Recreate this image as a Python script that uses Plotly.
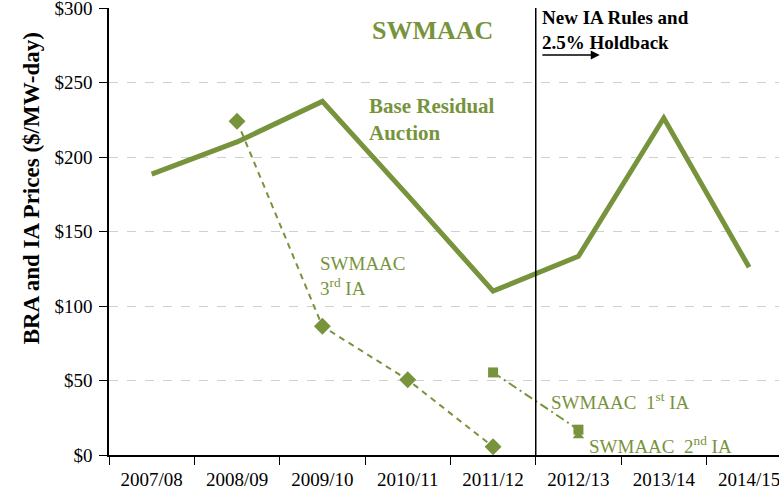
import plotly.graph_objects as go

categories = ["2007/08", "2008/09", "2009/10", "2010/11", "2011/12", "2012/13", "2013/14", "2014/15"]
bra_prices = [188.54, 210.11, 237.33, 174.29, 110.00, 133.37, 226.15, 125.99]
ia3_cats = ["2008/09", "2009/10", "2010/11", "2011/12"]
ia3_prices = [224.0, 86.4, 50.5, 5.5]
ia1_cats = ["2011/12", "2012/13"]
ia1_prices = [55.4, 17.0]
ia2_cats = ["2012/13"]
ia2_prices = [13.0]
y_ticks = [0, 50, 100, 150, 200, 250, 300]
y_labels = ["$0", "$50", "$100", "$150", "$200", "$250", "$300"]

GREEN = "#77933C"
SERIF = "Liberation Serif, Times New Roman, serif"

fig = go.Figure()
fig.add_trace(go.Scatter(x=categories, y=bra_prices, mode="lines",
                         line=dict(color=GREEN, width=5), name="BRA"))
fig.add_trace(go.Scatter(x=ia3_cats, y=ia3_prices, mode="lines+markers",
                         line=dict(color=GREEN, width=2, dash="6px,5px"),
                         marker=dict(symbol="diamond", size=13, color=GREEN), name="3rd IA"))
fig.add_trace(go.Scatter(x=ia1_cats, y=ia1_prices, mode="lines+markers",
                         line=dict(color=GREEN, width=2, dash="9px,4px,2px,4px"),
                         marker=dict(symbol="square", size=10, color=GREEN), name="1st IA"))
fig.add_trace(go.Scatter(x=ia2_cats, y=ia2_prices, mode="markers",
                         marker=dict(symbol="triangle-up", size=10, color=GREEN), name="2nd IA"))

fig.add_shape(type="line", xref="x", yref="y", x0=4.5, x1=4.5, y0=0, y1=300,
              line=dict(color="black", width=1.5))

def add(text, x, y, size, color=GREEN, xanchor="left", yanchor="middle", bold=False):
    if bold:
        text = "<b>" + text + "</b>"
    fig.add_annotation(text=text, x=x, y=y, xref="x", yref="y", showarrow=False,
                       xanchor=xanchor, yanchor=yanchor, align="left",
                       font=dict(family=SERIF, size=size, color=color))

add("SWMAAC", 3.29, 285, 26, xanchor="center", bold=True)
add("Base Residual<br>Auction", 2.52, 225, 21, bold=True)
add("SWMAAC<br>3<sup>rd</sup> IA", 1.95, 120, 19)
add("SWMAAC  1<sup>st</sup> IA", 4.65, 36, 19)
add("SWMAAC  2<sup>nd</sup> IA", 5.1, 7, 19)
add("New IA Rules and<br>2.5% Holdback", 4.55, 285.5, 19, color="black", bold=True)

fig.add_annotation(x=5.25, y=268.5, ax=4.56, ay=268.5, xref="x", yref="y", axref="x", ayref="y",
                   showarrow=True, arrowhead=2, arrowsize=1.2, arrowwidth=1.5,
                   arrowcolor="black", text="")

# y-axis title
fig.add_annotation(text="<b>BRA and IA Prices ($/MW-day)</b>", xref="paper", yref="y",
                   x=-0.1164, y=179, xanchor="center", yanchor="middle", textangle=-90,
                   showarrow=False, font=dict(family=SERIF, size=23, color="black"))

fig.update_layout(
    width=779, height=497,
    margin=dict(l=109, r=0, t=8, b=42),
    paper_bgcolor="white", plot_bgcolor="white",
    showlegend=False,
    font=dict(family=SERIF, size=19, color="black"),
)
fig.update_xaxes(type="category", categoryorder="array", categoryarray=categories,
                 range=[-0.5, 7.35], showgrid=False, tickson="boundaries",
                 ticks="outside", ticklen=8, tickcolor="black", showline=True,
                 linecolor="black", linewidth=1.5, tickfont=dict(size=19, family=SERIF),
                 zeroline=False, automargin=False, ticklabeloverflow="allow",
                 ticklabelstandoff=6)
fig.update_yaxes(range=[0, 300], tickvals=y_ticks, ticktext=y_labels, showgrid=True,
                 gridcolor="#D0D0D0", griddash="dash", gridwidth=1,
                 ticks="outside", ticklen=8, tickcolor="black", showline=True,
                 linecolor="black", linewidth=1.5, zeroline=False, automargin=False,
                 tickfont=dict(size=19, family=SERIF), ticklabeloverflow="allow",
                 ticklabelstandoff=3)

fig.write_html("out.html", config={"displayModeBar": False},
               post_script="document.body.style.margin='0';")
